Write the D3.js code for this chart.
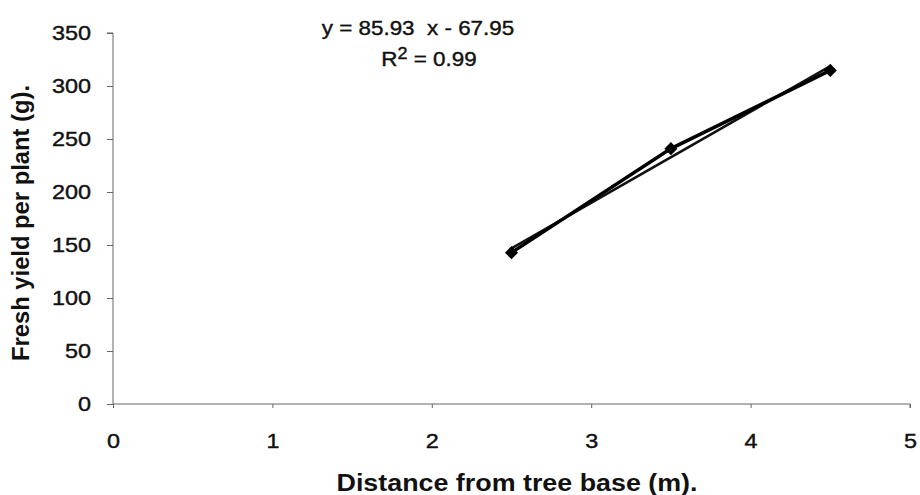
<!DOCTYPE html>
<html>
<head>
<meta charset="utf-8">
<script src="https://cdn.jsdelivr.net/npm/d3@7"></script>
<style>
  body { margin: 0; background: #fff; }
  svg text { font-family: "Liberation Sans", Arial, sans-serif; fill: #111; }
</style>
</head>
<body>
<div class="container"></div>
<script>
const w = 920
const h = 495

// data
const distance = [2.5, 3.5, 4.5]
const freshYield = [142.8, 240.9, 314.7]
const xTicks = [0, 1, 2, 3, 4, 5]
const yTicks = [0, 50, 100, 150, 200, 250, 300, 350]
const slope = 85.93
const intercept = -67.95
const rSquared = 0.99

const svg = d3.select(".container")
              .append("svg")
              .attr("width", w)
              .attr("height", h)

// scanned original is a bit wider than the font, stretch text horizontally
const stretch = (sel, k) => sel.each(function() {
  const len = this.getComputedTextLength()
  d3.select(this)
    .attr("textLength", len * k)
    .attr("lengthAdjust", "spacingAndGlyphs")
})

const xScale = d3.scaleLinear()
                 .domain([0, 5])
                 .range([113, 910])
const yScale = d3.scaleLinear()
                 .domain([0, 350])
                 .range([404, 33])

const xAxis = d3.axisBottom(xScale)
                .tickValues(xTicks)
                .tickFormat(d3.format("d"))
                .tickSize(4)
                .tickPadding(26)
const yAxis = d3.axisLeft(yScale)
                .tickValues(yTicks)
                .tickSize(6)
                .tickPadding(16)

const gx = svg.append("g")
    .attr("transform", `translate(0, ${yScale(0)})`)
    .call(xAxis)
gx.select(".domain").attr("d", `M${xScale(0)},0H${xScale(5)}V4`)

const gy = svg.append("g")
    .attr("transform", `translate(${xScale(0)}, 0)`)
    .call(yAxis)
gy.select(".domain").attr("d", `M-6,${yScale(350)}H0V${yScale(0)}`)

svg.selectAll(".domain, .tick line")
    .attr("stroke", "#666")
    .attr("stroke-width", 1)
svg.selectAll(".tick text")
    .style("font-size", "20px")
    .attr("fill", "#111")
    .attr("stroke", "#111")
    .attr("stroke-width", 0.4)
    .call(stretch, 1.17)

// trendline
const tx = [d3.min(distance), d3.max(distance)]
svg.append("line")
    .attr("x1", xScale(tx[0]))
    .attr("y1", yScale(slope * tx[0] + intercept))
    .attr("x2", xScale(tx[1]))
    .attr("y2", yScale(slope * tx[1] + intercept))
    .attr("stroke", "#111")
    .attr("stroke-width", 2.5)

const pts = distance.map((d, i) => [d, freshYield[i]])

svg.append("path")
    .datum(pts)
    .attr("fill", "none")
    .attr("stroke", "#000")
    .attr("stroke-width", 3.5)
    .attr("d", d3.line().x(d => xScale(d[0])).y(d => yScale(d[1])))

svg.selectAll(".pt")
    .data(pts)
    .enter()
    .append("path")
      .attr("class", "pt")
      .attr("d", d3.symbol(d3.symbolDiamond2, 110))
      .attr("transform", d => `translate(${xScale(d[0])}, ${yScale(d[1])})`)
      .attr("fill", "#000")

// equation
svg.append("text")
    .attr("x", 418)
    .attr("y", 35)
    .attr("text-anchor", "middle")
    .style("font-size", "20px")
    .style("white-space", "pre")
    .attr("stroke", "#111")
    .attr("stroke-width", 0.4)
    .text(`y = ${slope}  x - ${Math.abs(intercept)}`)
    .call(stretch, 1.12)

const r2 = svg.append("text")
    .attr("x", 429)
    .attr("y", 66)
    .attr("text-anchor", "middle")
    .style("font-size", "20px")
    .attr("stroke", "#111")
    .attr("stroke-width", 0.4)
r2.append("tspan").text("R")
r2.append("tspan").attr("dy", -7).style("font-size", "16px").text("2")
r2.append("tspan").attr("dy", 7).text(` = ${rSquared}`)
r2.call(stretch, 1.12)

svg.append("text")
    .attr("x", 517)
    .attr("y", 491)
    .attr("text-anchor", "middle")
    .style("font-size", "23px")
    .style("font-weight", "bold")
    .text("Distance from tree base (m).")
    .attr("textLength", 361)
    .attr("lengthAdjust", "spacingAndGlyphs")

svg.append("text")
    .attr("transform", "rotate(-90)")
    .attr("x", -223)
    .attr("y", 29)
    .attr("text-anchor", "middle")
    .style("font-size", "23px")
    .style("font-weight", "bold")
    .text("Fresh yield per plant (g).")
    .attr("textLength", 276)
    .attr("lengthAdjust", "spacingAndGlyphs")
</script>
</body>
</html>
